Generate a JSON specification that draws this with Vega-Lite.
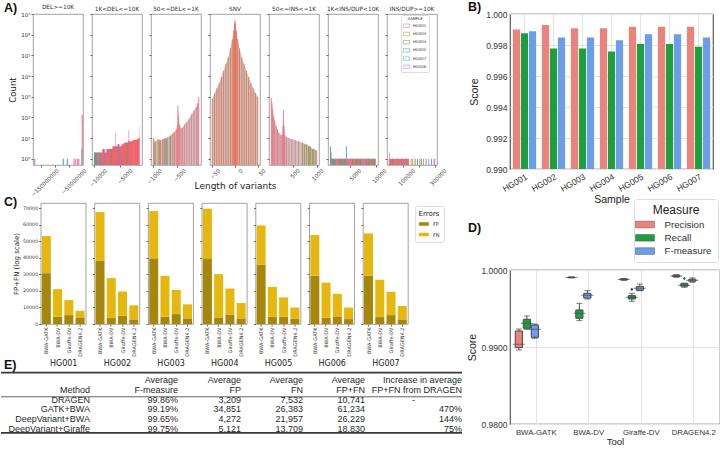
{
"$schema":"https://vega.github.io/schema/vega-lite/v6.json",
"padding":{"left":0,"top":0,"right":0,"bottom":0},
"background":"white",
"config":{
 "view":{"stroke":"#8a8a8a","strokeWidth":0.8},
 "axis":{"labelColor":"#333","titleColor":"#222","tickColor":"#666","domain":false,"grid":false,"titleFontWeight":"normal","labelFont":"DejaVu Sans","titleFont":"DejaVu Sans"},
 "legend":{"labelColor":"#333","titleColor":"#222","titleFontWeight":"normal"}
},
"datasets":{
 "a1":[{"x":-172000000,"c":1,"s":"HG006"},{"x":-69000000,"c":1,"s":"HG005"},{"x":-54000000,"c":1,"s":"HG007"},{"x":-30000000,"c":1,"s":"HG001"},{"x":-24000000,"c":1,"s":"HG006"},{"x":-17000000,"c":1,"s":"HG001"},{"x":-13000000,"c":1,"s":"HG001"},{"x":-1800000,"c":3,"s":"HG005"},{"x":-700000,"c":130,"s":"HG001"}],
 "a2a":[{"x":-10000,"c":2},{"x":-9600,"c":2},{"x":-9200,"c":2},{"x":-8800,"c":2},{"x":-8400,"c":3},{"x":-8000,"c":2},{"x":-7600,"c":3},{"x":-7200,"c":3},{"x":-6800,"c":3},{"x":-6400,"c":4},{"x":-6000,"c":4},{"x":-5900,"c":18},{"x":-5800,"c":4},{"x":-5400,"c":5},{"x":-5000,"c":4},{"x":-4600,"c":5},{"x":-4200,"c":6},{"x":-3800,"c":6},{"x":-3400,"c":7},{"x":-3200,"c":25},{"x":-3100,"c":7},{"x":-2800,"c":7},{"x":-2400,"c":8},{"x":-2000,"c":8},{"x":-1600,"c":9},{"x":-1300,"c":10},{"x":-1100,"c":12},{"x":-1050,"c":40},{"x":-1000,"c":40}],
 "a2r":[{"x":-9950,"c":2,"s":"HG005"},{"x":-9700,"c":2,"s":"HG004"},{"x":-9450,"c":2,"s":"HG007"},{"x":-9100,"c":2,"s":"HG003"},{"x":-8850,"c":2,"s":"HG005"},{"x":-7900,"c":3,"s":"HG007"},{"x":-6600,"c":3,"s":"HG004"},{"x":-5200,"c":5,"s":"HG005"},{"x":-3600,"c":6,"s":"HG004"},{"x":-2200,"c":8,"s":"HG003"}],
 "a3a":[{"x":-1000,"c":10},{"x":-950,"c":7},{"x":-900,"c":9},{"x":-850,"c":8},{"x":-800,"c":9},{"x":-750,"c":10},{"x":-700,"c":11},{"x":-650,"c":13},{"x":-600,"c":16},{"x":-560,"c":20},{"x":-520,"c":25},{"x":-500,"c":40},{"x":-485,"c":380},{"x":-470,"c":120},{"x":-450,"c":45},{"x":-420,"c":30},{"x":-390,"c":32},{"x":-350,"c":45},{"x":-300,"c":60},{"x":-250,"c":90},{"x":-200,"c":140},{"x":-150,"c":220},{"x":-100,"c":330},{"x":-70,"c":500},{"x":-50,"c":1000}],
 "a3r":[{"x":-980,"c":6,"s":"HG004"},{"x":-880,"c":8,"s":"HG003"},{"x":-860,"c":7,"s":"HG004"},{"x":-800,"c":8,"s":"HG003"},{"x":-760,"c":9,"s":"HG004"},{"x":-720,"c":9,"s":"HG005"},{"x":-640,"c":12,"s":"HG004"},{"x":-560,"c":18,"s":"HG003"}],
 "a4a":[{"x":-50,"c":800},{"x":-45,"c":1400},{"x":-40,"c":2600},{"x":-35,"c":4500},{"x":-30,"c":9000},{"x":-25,"c":18000},{"x":-20,"c":38000},{"x":-15,"c":80000},{"x":-10,"c":220000},{"x":-6,"c":600000},{"x":-3,"c":1500000},{"x":-1,"c":3500000},{"x":0,"c":5000000},{"x":1,"c":3500000},{"x":3,"c":1500000},{"x":6,"c":600000},{"x":10,"c":220000},{"x":15,"c":80000},{"x":20,"c":38000},{"x":25,"c":18000},{"x":30,"c":9000},{"x":35,"c":4500},{"x":40,"c":2600},{"x":45,"c":1500},{"x":50,"c":1000}],
 "a5a":[{"x":50,"c":900},{"x":65,"c":500},{"x":80,"c":250},{"x":100,"c":120},{"x":120,"c":70},{"x":150,"c":40},{"x":180,"c":25},{"x":210,"c":18},{"x":250,"c":14},{"x":280,"c":15},{"x":295,"c":40},{"x":305,"c":230},{"x":318,"c":40},{"x":335,"c":14},{"x":370,"c":11},{"x":420,"c":10},{"x":480,"c":9},{"x":550,"c":8},{"x":620,"c":7},{"x":700,"c":6},{"x":780,"c":5},{"x":850,"c":4},{"x":920,"c":3},{"x":1000,"c":2.5}],
 "a5r":[{"x":700,"c":6,"s":"HG003"},{"x":740,"c":5,"s":"HG004"},{"x":790,"c":5,"s":"HG003"},{"x":830,"c":4,"s":"HG004"},{"x":870,"c":4,"s":"HG003"},{"x":905,"c":3,"s":"HG005"},{"x":940,"c":3,"s":"HG004"},{"x":980,"c":2.5,"s":"HG003"}],
 "a6a":[{"x":1000,"c":3},{"x":1100,"c":2},{"x":1250,"c":1},{"x":10000,"c":1}],
 "a6r":[{"x":1050,"c":4,"s":"HG005"},{"x":1300,"c":1,"s":"HG003"},{"x":1450,"c":1,"s":"HG007"},{"x":1700,"c":1,"s":"HG004"},{"x":2000,"c":1,"s":"HG005"},{"x":2200,"c":1,"s":"HG006"},{"x":2600,"c":1,"s":"HG003"},{"x":2900,"c":1,"s":"HG004"},{"x":3200,"c":1,"s":"HG005"},{"x":3600,"c":1,"s":"HG007"},{"x":3900,"c":1,"s":"HG004"},{"x":4200,"c":4,"s":"HG007"},{"x":4600,"c":1,"s":"HG003"},{"x":5000,"c":1,"s":"HG006"},{"x":5400,"c":1,"s":"HG004"},{"x":5800,"c":1,"s":"HG003"},{"x":6200,"c":1,"s":"HG005"},{"x":6600,"c":1,"s":"HG007"},{"x":7000,"c":1,"s":"HG004"},{"x":7400,"c":1,"s":"HG003"},{"x":7800,"c":1,"s":"HG006"},{"x":8200,"c":1,"s":"HG005"},{"x":8600,"c":1,"s":"HG004"},{"x":9000,"c":1,"s":"HG003"},{"x":9400,"c":1,"s":"HG007"},{"x":9800,"c":1,"s":"HG004"}],
 "a7a":[{"x":10000,"c":2},{"x":14000,"c":1},{"x":136000,"c":0.5},{"x":300000,"c":0.5}],
 "a7l":[{"x":10000,"c":1},{"x":300000,"c":1}],
 "a7r":[{"x":30000,"c":1,"s":"HG005"},{"x":60000,"c":1,"s":"HG003"},{"x":90000,"c":1,"s":"HG007"},{"x":120000,"c":1,"s":"HG004"},{"x":150000,"c":1,"s":"HG003"},{"x":160000,"c":1,"s":"HG001"},{"x":175000,"c":1,"s":"HG004"},{"x":190000,"c":1,"s":"HG005"},{"x":205000,"c":1,"s":"HG003"},{"x":215000,"c":1,"s":"HG004"},{"x":228000,"c":1,"s":"HG001"},{"x":245000,"c":1,"s":"HG007"},{"x":262000,"c":1,"s":"HG006"},{"x":280000,"c":1,"s":"HG005"},{"x":296000,"c":1,"s":"HG006"}],
 "c":[
  {"sample":"HG001","tool":"BWA-GATK","FP":30800,"FN":22500},{"sample":"HG001","tool":"BWA-DV","FP":4400,"FN":16700},{"sample":"HG001","tool":"Giraffe-DV","FP":5400,"FN":9100},{"sample":"HG001","tool":"DRAGEN4.2","FP":4000,"FN":4000},
  {"sample":"HG002","tool":"BWA-GATK","FP":38200,"FN":29600},{"sample":"HG002","tool":"BWA-DV","FP":3600,"FN":24200},{"sample":"HG002","tool":"Giraffe-DV","FP":5000,"FN":14700},{"sample":"HG002","tool":"DRAGEN4.2","FP":2800,"FN":8500},
  {"sample":"HG003","tool":"BWA-GATK","FP":39800,"FN":28600},{"sample":"HG003","tool":"BWA-DV","FP":4400,"FN":24800},{"sample":"HG003","tool":"Giraffe-DV","FP":6000,"FN":14700},{"sample":"HG003","tool":"DRAGEN4.2","FP":3400,"FN":8500},
  {"sample":"HG004","tool":"BWA-GATK","FP":39800,"FN":30000},{"sample":"HG004","tool":"BWA-DV","FP":4000,"FN":26200},{"sample":"HG004","tool":"Giraffe-DV","FP":5800,"FN":15700},{"sample":"HG004","tool":"DRAGEN4.2","FP":3400,"FN":9300},
  {"sample":"HG005","tool":"BWA-GATK","FP":35800,"FN":23900},{"sample":"HG005","tool":"BWA-DV","FP":4400,"FN":18100},{"sample":"HG005","tool":"Giraffe-DV","FP":4400,"FN":11700},{"sample":"HG005","tool":"DRAGEN4.2","FP":3200,"FN":6800},
  {"sample":"HG006","tool":"BWA-GATK","FP":29200,"FN":24700},{"sample":"HG006","tool":"BWA-DV","FP":3800,"FN":21300},{"sample":"HG006","tool":"Giraffe-DV","FP":4600,"FN":13700},{"sample":"HG006","tool":"DRAGEN4.2","FP":3000,"FN":7000},
  {"sample":"HG007","tool":"BWA-GATK","FP":29200,"FN":25700},{"sample":"HG007","tool":"BWA-DV","FP":4200,"FN":22600},{"sample":"HG007","tool":"Giraffe-DV","FP":5400,"FN":14100},{"sample":"HG007","tool":"DRAGEN4.2","FP":2800,"FN":8100}
 ],
 "b":[
  {"sample":"HG001","Precision":0.99900,"Recall":0.99876,"F-measure":0.99888},
  {"sample":"HG002","Precision":0.99929,"Recall":0.99778,"F-measure":0.99849},
  {"sample":"HG003","Precision":0.99908,"Recall":0.99778,"F-measure":0.99849},
  {"sample":"HG004","Precision":0.99908,"Recall":0.99758,"F-measure":0.99830},
  {"sample":"HG005","Precision":0.99918,"Recall":0.99806,"F-measure":0.99869},
  {"sample":"HG006","Precision":0.99918,"Recall":0.99806,"F-measure":0.99869},
  {"sample":"HG007","Precision":0.99918,"Recall":0.99789,"F-measure":0.99849}
 ],
 "d":[
  {"tool":"BWA-GATK","m":"Precision","lo":0.98961,"q1":0.98992,"med":0.99035,"q3":0.99208,"hi":0.99234},
  {"tool":"BWA-GATK","m":"Recall","lo":0.99230,"q1":0.99243,"med":0.99308,"q3":0.99360,"hi":0.99403},
  {"tool":"BWA-GATK","m":"F-measure","lo":0.99113,"q1":0.99126,"med":0.99230,"q3":0.99286,"hi":0.99299},
  {"tool":"BWA-DV","m":"Precision","lo":0.99897,"q1":0.99901,"med":0.99904,"q3":0.99907,"hi":0.99910},
  {"tool":"BWA-DV","m":"Recall","lo":0.99343,"q1":0.99373,"med":0.99438,"q3":0.99481,"hi":0.99567},
  {"tool":"BWA-DV","m":"F-measure","lo":0.99623,"q1":0.99636,"med":0.99671,"q3":0.99697,"hi":0.99732},
  {"tool":"Giraffe-DV","m":"Precision","lo":0.99866,"q1":0.99871,"med":0.99878,"q3":0.99885,"hi":0.99889},
  {"tool":"Giraffe-DV","m":"Recall","lo":0.99593,"q1":0.99623,"med":0.99645,"q3":0.99667,"hi":0.99697},
  {"tool":"Giraffe-DV","m":"F-measure","lo":0.99732,"q1":0.99736,"med":0.99762,"q3":0.99784,"hi":0.99818},
  {"tool":"DRAGEN4.2","m":"Precision","lo":0.99905,"q1":0.99915,"med":0.99922,"q3":0.99932,"hi":0.99940},
  {"tool":"DRAGEN4.2","m":"Recall","lo":0.99775,"q1":0.99790,"med":0.99800,"q3":0.99822,"hi":0.99830},
  {"tool":"DRAGEN4.2","m":"F-measure","lo":0.99840,"q1":0.99855,"med":0.99866,"q3":0.99880,"hi":0.99898}
 ],
 "dout":[{"tool":"Giraffe-DV","m":"Recall","v":0.99749},{"tool":"DRAGEN4.2","m":"Recall","v":0.99890}],
 "tbl":[
  {"col":1,"row":1,"t":"Method"},{"col":1,"row":2,"t":"DRAGEN"},{"col":1,"row":3,"t":"GATK+BWA"},{"col":1,"row":4,"t":"DeepVariant+BWA"},{"col":1,"row":5,"t":"DeepVariant+Giraffe"},
  {"col":2,"row":0,"t":"Average"},{"col":2,"row":1,"t":"F-measure"},{"col":2,"row":2,"t":"99.86%"},{"col":2,"row":3,"t":"99.19%"},{"col":2,"row":4,"t":"99.65%"},{"col":2,"row":5,"t":"99.75%"},
  {"col":3,"row":0,"t":"Average"},{"col":3,"row":1,"t":"FP"},{"col":3,"row":2,"t":"3,209"},{"col":3,"row":3,"t":"34,851"},{"col":3,"row":4,"t":"4,272"},{"col":3,"row":5,"t":"5,121"},
  {"col":4,"row":0,"t":"Average"},{"col":4,"row":1,"t":"FN"},{"col":4,"row":2,"t":"7,532"},{"col":4,"row":3,"t":"26,383"},{"col":4,"row":4,"t":"21,957"},{"col":4,"row":5,"t":"13,709"},
  {"col":5,"row":0,"t":"Average"},{"col":5,"row":1,"t":"FP+FN"},{"col":5,"row":2,"t":"10,741"},{"col":5,"row":3,"t":"61,234"},{"col":5,"row":4,"t":"26,229"},{"col":5,"row":5,"t":"18,830"},
  {"col":6,"row":0,"t":"Increase in average"},{"col":6,"row":1,"t":"FP+FN from DRAGEN"},{"col":6,"row":2,"t":"-"},{"col":6,"row":3,"t":"470%"},{"col":6,"row":4,"t":"144%"},{"col":6,"row":5,"t":"75%"}
 ]
},
"hconcat":[
 {"vconcat":[
  {"hconcat":[
   {"width":23,"height":1,"data":{"values":[]},"mark":"point","view":{"stroke":null}},
   {"width":50,"height":151,"title":{"text":"DEL>=10K","fontSize":5.8,"font":"DejaVu Sans","fontWeight":"normal","color":"#333","offset":2},
    "data":{"name":"a1"},"mark":{"type":"rule","strokeWidth":1.2,"opacity":0.9},
    "encoding":{
     "x":{"field":"x","type":"quantitative","scale":{"domain":[-178000000,2000000],"nice":false,"zero":false},"axis":{"values":[-150000000,-100000000,-50000000],"labelOffset":15,"labelAngle":-45,"labelFontSize":5.5,"tickSize":2,"labelPadding":1,"format":"d","title":null}},
     "y":{"field":"c","type":"quantitative","scale":{"type":"log","domain":[0.5,10000000],"nice":false},"axis":{"title":"Count","titleFontSize":8.5,"titlePadding":3,"values":[1,10,100,1000,10000,100000,1000000,10000000],"labelExpr":"'10' + ['⁰','¹','²','³','⁴','⁵','⁶','⁷'][round(log(datum.value)/LN10)]","labelFontSize":5.5,"tickSize":2,"labelPadding":1}},
     "y2":{"datum":0.5},
     "color":{"field":"s","type":"nominal","scale":{"domain":["HG001","HG003","HG004","HG005","HG007","HG006"],"range":["#f77189","#bb9832","#50b131","#36ada4","#3ba3ec","#e866f4"]},"legend":null}}},
   {"width":50,"height":151,"title":{"text":"1K<DEL<=10K","fontSize":5.8,"font":"DejaVu Sans","fontWeight":"normal","color":"#333","offset":2},
    "encoding":{
     "x":{"field":"x","type":"quantitative","scale":{"domain":[-10450,-550],"nice":false,"zero":false},"axis":{"values":[-10000,-5000],"labelOffset":10,"labelAngle":-45,"labelFontSize":5.5,"tickSize":2,"labelPadding":1,"format":"d","title":null}},
     "y":{"field":"c","type":"quantitative","scale":{"type":"log","domain":[0.5,10000000],"nice":false},"axis":{"title":null,"labels":false,"values":[1,10,100,1000,10000,100000,1000000,10000000],"tickSize":2}},
     "y2":{"datum":0.5}},
    "layer":[
     {"data":{"name":"a2a"},"mark":{"type":"area","interpolate":"step-after","color":"#f3586f","opacity":0.95}},
     {"data":{"name":"a2r"},"mark":{"type":"rule","strokeWidth":1,"opacity":0.9},"encoding":{"color":{"field":"s","type":"nominal","scale":{"domain":["HG001","HG003","HG004","HG005","HG007","HG006"],"range":["#f77189","#bb9832","#50b131","#36ada4","#3ba3ec","#e866f4"]},"legend":null}}}
    ]},
   {"width":50,"height":151,"title":{"text":"50<=DEL<=1K","fontSize":5.8,"font":"DejaVu Sans","fontWeight":"normal","color":"#333","offset":2},
    "encoding":{
     "x":{"field":"x","type":"quantitative","scale":{"domain":[-1047.5,-2.5],"nice":false,"zero":false},"axis":{"values":[-1000,-500],"labelOffset":6,"labelAngle":-45,"labelFontSize":5.5,"tickSize":2,"labelPadding":1,"format":"d","title":null}},
     "y":{"field":"c","type":"quantitative","scale":{"type":"log","domain":[0.5,10000000],"nice":false},"axis":{"title":null,"labels":false,"values":[1,10,100,1000,10000,100000,1000000,10000000],"tickSize":2}},
     "y2":{"datum":0.5}},
    "layer":[
     {"data":{"name":"a3a"},"mark":{"type":"area","color":"#c6c5bf"}},
     {"data":{"name":"a3r"},"mark":{"type":"rule","strokeWidth":1,"opacity":0.9},"encoding":{"color":{"field":"s","type":"nominal","scale":{"domain":["HG001","HG003","HG004","HG005","HG007","HG006"],"range":["#f77189","#bb9832","#50b131","#36ada4","#3ba3ec","#e866f4"]},"legend":null}}},
     {"data":{"name":"a3a"},"mark":{"type":"line","color":"#ef6f86","strokeWidth":0.8}}
    ]},
   {"width":50,"height":151,"title":{"text":"SNV","fontSize":5.8,"font":"DejaVu Sans","fontWeight":"normal","color":"#333","offset":2},
    "encoding":{
     "x":{"field":"x","type":"quantitative","scale":{"domain":[-55,55],"nice":false,"zero":false},"axis":{"values":[-50,0,50],"labelOffset":5,"labelAngle":-45,"labelFontSize":5.5,"tickSize":2,"labelPadding":1,"format":"d","title":"Length of variants","titleFontSize":9,"titlePadding":1}},
     "y":{"field":"c","type":"quantitative","scale":{"type":"log","domain":[0.5,10000000],"nice":false},"axis":{"title":null,"labels":false,"values":[1,10,100,1000,10000,100000,1000000,10000000],"tickSize":2}},
     "y2":{"datum":0.5}},
    "layer":[
     {"data":{"name":"a4a"},"mark":{"type":"area","color":"#c6c5bf"}},
     {"data":{"name":"a4a"},"mark":{"type":"line","color":"#e4785e","strokeWidth":1}}
    ]},
   {"width":50,"height":151,"title":{"text":"50<=INS<=1K","fontSize":5.8,"font":"DejaVu Sans","fontWeight":"normal","color":"#333","offset":2},
    "encoding":{
     "x":{"field":"x","type":"quantitative","scale":{"domain":[2.5,1047.5],"nice":false,"zero":false},"axis":{"values":[500,1000],"labelOffset":4,"labelAngle":-45,"labelFontSize":5.5,"tickSize":2,"labelPadding":1,"format":"d","title":null}},
     "y":{"field":"c","type":"quantitative","scale":{"type":"log","domain":[0.5,10000000],"nice":false},"axis":{"title":null,"labels":false,"values":[1,10,100,1000,10000,100000,1000000,10000000],"tickSize":2}},
     "y2":{"datum":0.5}},
    "layer":[
     {"data":{"name":"a5a"},"mark":{"type":"area","color":"#c6c5bf"}},
     {"data":{"name":"a5r"},"mark":{"type":"rule","strokeWidth":1,"opacity":0.9},"encoding":{"color":{"field":"s","type":"nominal","scale":{"domain":["HG001","HG003","HG004","HG005","HG007","HG006"],"range":["#f77189","#bb9832","#50b131","#36ada4","#3ba3ec","#e866f4"]},"legend":null}}},
     {"data":{"name":"a5a"},"mark":{"type":"line","color":"#ef6f86","strokeWidth":0.8}}
    ]},
   {"width":50,"height":151,"title":{"text":"1K<INS/DUP<10K","fontSize":5.8,"font":"DejaVu Sans","fontWeight":"normal","color":"#333","offset":2},
    "encoding":{
     "x":{"field":"x","type":"quantitative","scale":{"domain":[550,10450],"nice":false,"zero":false},"axis":{"values":[5000,10000],"labelOffset":8,"labelAngle":-45,"labelFontSize":5.5,"tickSize":2,"labelPadding":1,"format":"d","title":null}},
     "y":{"field":"c","type":"quantitative","scale":{"type":"log","domain":[0.5,10000000],"nice":false},"axis":{"title":null,"labels":false,"values":[1,10,100,1000,10000,100000,1000000,10000000],"tickSize":2}},
     "y2":{"datum":0.5}},
    "layer":[
     {"data":{"name":"a6a"},"mark":{"type":"area","interpolate":"step-after","color":"#f3586f","opacity":0.9}},
     {"data":{"name":"a6r"},"mark":{"type":"rule","strokeWidth":1,"opacity":0.9},"encoding":{"color":{"field":"s","type":"nominal","scale":{"domain":["HG001","HG003","HG004","HG005","HG007","HG006"],"range":["#f77189","#bb9832","#50b131","#36ada4","#3ba3ec","#e866f4"]},"legend":null}}}
    ]},
   {"width":50,"height":151,"title":{"text":"INS/DUP>=10K","fontSize":5.8,"font":"DejaVu Sans","fontWeight":"normal","color":"#333","offset":2},
    "encoding":{
     "x":{"field":"x","type":"quantitative","scale":{"domain":[-4500,314500],"nice":false,"zero":false},"axis":{"values":[100000,200000,300000],"labelOffset":9,"labelAngle":-45,"labelFontSize":5.5,"tickSize":2,"labelPadding":1,"format":"d","title":null}},
     "y":{"field":"c","type":"quantitative","scale":{"type":"log","domain":[0.5,10000000],"nice":false},"axis":{"title":null,"labels":false,"values":[1,10,100,1000,10000,100000,1000000,10000000],"tickSize":2}},
     "y2":{"datum":0.5}},
    "layer":[
     {"data":{"name":"a7a"},"mark":{"type":"area","interpolate":"step-after","color":"#f3586f","opacity":0.9}},
     {"data":{"name":"a7l"},"mark":{"type":"line","color":"#f3586f","strokeWidth":0.8}},
     {"data":{"name":"a7r"},"mark":{"type":"rule","strokeWidth":1,"opacity":0.9},"encoding":{"color":{"field":"s","type":"nominal","scale":{"domain":["HG001","HG003","HG004","HG005","HG007","HG006"],"range":["#f77189","#bb9832","#50b131","#36ada4","#3ba3ec","#e866f4"]},
       "legend":{"orient":"none","legendX":14,"legendY":1,"title":"SAMPLE","titleFontSize":3.8,"labelFontSize":3.8,"titleFont":"DejaVu Sans","labelFont":"DejaVu Sans","symbolType":"M-1,-0.55H1V0.55H-1Z","symbolSize":40,"symbolStrokeWidth":0.6,"rowPadding":1.2,"padding":2,"strokeColor":"#dddddd","fillColor":"white","titleAnchor":"middle","titlePadding":1.5,"labelOffset":3,"cornerRadius":1}}}}
    ]}
  ],
  "spacing":9,"bounds":"flush",
  "title":{"text":"A)","anchor":"start","frame":"group","fontSize":12.5,"fontWeight":"bold","font":"Liberation Sans","dx":3,"dy":6.5,"offset":-4,"color":"#111"},
  "resolve":{"legend":{"color":"independent"}}},
  {"vconcat":[
   {"hconcat":[
    {"width":30.3,"height":1,"data":{"values":[]},"mark":"point","view":{"stroke":null}},
    {"width":45,"height":121,"data":{"name":"c"},"transform":[{"filter":"datum.sample=='HG001'"},{"fold":["FP","FN"],"as":["err","v"]}],"mark":{"type":"bar"},
     "encoding":{"x":{"field":"tool","type":"nominal","sort":["BWA-GATK","BWA-DV","Giraffe-DV","DRAGEN4.2"],"scale":{"paddingInner":0.2,"paddingOuter":0.1},"axis":{"title":"HG001","labelAngle":-90,"labelFontSize":5,"titleFontSize":8,"tickSize":2,"labelPadding":1,"titlePadding":3}},
      "y":{"field":"v","type":"quantitative","stack":"zero","scale":{"domain":[0,73300],"nice":false},"axis":{"title":"FP+FN (log scale)","values":[0,10000,20000,30000,40000,50000,60000,70000],"format":"d","labelFontSize":4.8,"titleFontSize":7,"tickSize":2,"labelPadding":1,"titlePadding":3}},
      "color":{"field":"err","type":"nominal","scale":{"domain":["FP","FN"],"range":["#a6870c","#e6b70e"]},"legend":null},
      "order":{"field":"err","sort":"descending"}}},
    {"width":45,"height":121,"data":{"name":"c"},"transform":[{"filter":"datum.sample=='HG002'"},{"fold":["FP","FN"],"as":["err","v"]}],"mark":{"type":"bar"},
     "encoding":{"x":{"field":"tool","type":"nominal","sort":["BWA-GATK","BWA-DV","Giraffe-DV","DRAGEN4.2"],"scale":{"paddingInner":0.2,"paddingOuter":0.1},"axis":{"title":"HG002","labelAngle":-90,"labelFontSize":5,"titleFontSize":8,"tickSize":2,"labelPadding":1,"titlePadding":3}},
      "y":{"field":"v","type":"quantitative","stack":"zero","scale":{"domain":[0,73300],"nice":false},"axis":{"title":null,"labels":false,"values":[0,10000,20000,30000,40000,50000,60000,70000],"tickSize":2}},
      "color":{"field":"err","type":"nominal","scale":{"domain":["FP","FN"],"range":["#a6870c","#e6b70e"]},"legend":null},
      "order":{"field":"err","sort":"descending"}}},
    {"width":45,"height":121,"data":{"name":"c"},"transform":[{"filter":"datum.sample=='HG003'"},{"fold":["FP","FN"],"as":["err","v"]}],"mark":{"type":"bar"},
     "encoding":{"x":{"field":"tool","type":"nominal","sort":["BWA-GATK","BWA-DV","Giraffe-DV","DRAGEN4.2"],"scale":{"paddingInner":0.2,"paddingOuter":0.1},"axis":{"title":"HG003","labelAngle":-90,"labelFontSize":5,"titleFontSize":8,"tickSize":2,"labelPadding":1,"titlePadding":3}},
      "y":{"field":"v","type":"quantitative","stack":"zero","scale":{"domain":[0,73300],"nice":false},"axis":{"title":null,"labels":false,"values":[0,10000,20000,30000,40000,50000,60000,70000],"tickSize":2}},
      "color":{"field":"err","type":"nominal","scale":{"domain":["FP","FN"],"range":["#a6870c","#e6b70e"]},"legend":null},
      "order":{"field":"err","sort":"descending"}}},
    {"width":45,"height":121,"data":{"name":"c"},"transform":[{"filter":"datum.sample=='HG004'"},{"fold":["FP","FN"],"as":["err","v"]}],"mark":{"type":"bar"},
     "encoding":{"x":{"field":"tool","type":"nominal","sort":["BWA-GATK","BWA-DV","Giraffe-DV","DRAGEN4.2"],"scale":{"paddingInner":0.2,"paddingOuter":0.1},"axis":{"title":"HG004","labelAngle":-90,"labelFontSize":5,"titleFontSize":8,"tickSize":2,"labelPadding":1,"titlePadding":3}},
      "y":{"field":"v","type":"quantitative","stack":"zero","scale":{"domain":[0,73300],"nice":false},"axis":{"title":null,"labels":false,"values":[0,10000,20000,30000,40000,50000,60000,70000],"tickSize":2}},
      "color":{"field":"err","type":"nominal","scale":{"domain":["FP","FN"],"range":["#a6870c","#e6b70e"]},"legend":null},
      "order":{"field":"err","sort":"descending"}}},
    {"width":45,"height":121,"data":{"name":"c"},"transform":[{"filter":"datum.sample=='HG005'"},{"fold":["FP","FN"],"as":["err","v"]}],"mark":{"type":"bar"},
     "encoding":{"x":{"field":"tool","type":"nominal","sort":["BWA-GATK","BWA-DV","Giraffe-DV","DRAGEN4.2"],"scale":{"paddingInner":0.2,"paddingOuter":0.1},"axis":{"title":"HG005","labelAngle":-90,"labelFontSize":5,"titleFontSize":8,"tickSize":2,"labelPadding":1,"titlePadding":3}},
      "y":{"field":"v","type":"quantitative","stack":"zero","scale":{"domain":[0,73300],"nice":false},"axis":{"title":null,"labels":false,"values":[0,10000,20000,30000,40000,50000,60000,70000],"tickSize":2}},
      "color":{"field":"err","type":"nominal","scale":{"domain":["FP","FN"],"range":["#a6870c","#e6b70e"]},"legend":null},
      "order":{"field":"err","sort":"descending"}}},
    {"width":45,"height":121,"data":{"name":"c"},"transform":[{"filter":"datum.sample=='HG006'"},{"fold":["FP","FN"],"as":["err","v"]}],"mark":{"type":"bar"},
     "encoding":{"x":{"field":"tool","type":"nominal","sort":["BWA-GATK","BWA-DV","Giraffe-DV","DRAGEN4.2"],"scale":{"paddingInner":0.2,"paddingOuter":0.1},"axis":{"title":"HG006","labelAngle":-90,"labelFontSize":5,"titleFontSize":8,"tickSize":2,"labelPadding":1,"titlePadding":3}},
      "y":{"field":"v","type":"quantitative","stack":"zero","scale":{"domain":[0,73300],"nice":false},"axis":{"title":null,"labels":false,"values":[0,10000,20000,30000,40000,50000,60000,70000],"tickSize":2}},
      "color":{"field":"err","type":"nominal","scale":{"domain":["FP","FN"],"range":["#a6870c","#e6b70e"]},"legend":null},
      "order":{"field":"err","sort":"descending"}}},
    {"width":45,"height":121,"data":{"name":"c"},"transform":[{"filter":"datum.sample=='HG007'"},{"fold":["FP","FN"],"as":["err","v"]}],"mark":{"type":"bar"},
     "encoding":{"x":{"field":"tool","type":"nominal","sort":["BWA-GATK","BWA-DV","Giraffe-DV","DRAGEN4.2"],"scale":{"paddingInner":0.2,"paddingOuter":0.1},"axis":{"title":"HG007","labelAngle":-90,"labelFontSize":5,"titleFontSize":8,"tickSize":2,"labelPadding":1,"titlePadding":3}},
      "y":{"field":"v","type":"quantitative","stack":"zero","scale":{"domain":[0,73300],"nice":false},"axis":{"title":null,"labels":false,"values":[0,10000,20000,30000,40000,50000,60000,70000],"tickSize":2}},
      "color":{"field":"err","type":"nominal","scale":{"domain":["FP","FN"],"range":["#a6870c","#e6b70e"]},
       "legend":{"orient":"none","legendX":52,"legendY":3,"title":"Errors","titleFontSize":7,"labelFontSize":5,"titleFont":"DejaVu Sans","labelFont":"DejaVu Sans","symbolType":"M-1,-0.35H1V0.35H-1Z","symbolSize":100,"symbolStrokeWidth":0,"rowPadding":2.5,"padding":4,"strokeColor":"#dddddd","fillColor":"white","titleAnchor":"middle","titlePadding":2,"labelOffset":4,"cornerRadius":2}},
      "order":{"field":"err","sort":"descending"}}}
   ],
   "spacing":8.7,"bounds":"flush",
   "title":{"text":"C)","anchor":"start","frame":"group","fontSize":12.5,"fontWeight":"bold","font":"Liberation Sans","dx":3,"dy":6,"offset":0,"color":"#111"},
   "resolve":{"legend":{"color":"independent"}}},
   {"hconcat":[
    {"width":89,"height":64,"view":{"stroke":null},
     "title":{"text":"E)","anchor":"start","frame":"group","fontSize":12.5,"fontWeight":"bold","font":"Liberation Sans","dx":3,"dy":0,"offset":0,"color":"#111"},
     "layer":[
      {"data":{"name":"tbl"},"transform":[{"filter":"datum.col==1"}],"mark":{"type":"text","align":"right","baseline":"middle","fontSize":9,"font":"Liberation Sans","color":"#1f1f1f"},"encoding":{"x":{"value":"width"},"y":{"field":"row","type":"quantitative","scale":{"domain":[-0.96,5.64],"reverse":true,"nice":false,"zero":false},"axis":null},"text":{"field":"t"}}},
      {"data":{"values":[{}]},"mark":{"type":"rule","color":"#3a3a3a","strokeWidth":1.8},"encoding":{"x":{"value":0},"x2":{"value":"width"},"y":{"datum":-0.8,"type":"quantitative","axis":null}}},
      {"data":{"values":[{}]},"mark":{"type":"rule","color":"#3a3a3a","strokeWidth":0.8},"encoding":{"x":{"value":0},"x2":{"value":"width"},"y":{"datum":1.7,"type":"quantitative","axis":null}}},
      {"data":{"values":[{}]},"mark":{"type":"rule","color":"#3a3a3a","strokeWidth":1.8},"encoding":{"x":{"value":0},"x2":{"value":"width"},"y":{"datum":5.43,"type":"quantitative","axis":null}}}
     ]},
    {"width":88,"height":64,"view":{"stroke":null},
     "layer":[
      {"data":{"name":"tbl"},"transform":[{"filter":"datum.col==2"}],"mark":{"type":"text","align":"right","baseline":"middle","fontSize":9,"font":"Liberation Sans","color":"#1f1f1f"},"encoding":{"x":{"value":"width"},"y":{"field":"row","type":"quantitative","scale":{"domain":[-0.96,5.64],"reverse":true,"nice":false,"zero":false},"axis":null},"text":{"field":"t"}}},
      {"data":{"values":[{}]},"mark":{"type":"rule","color":"#3a3a3a","strokeWidth":1.8},"encoding":{"x":{"value":0},"x2":{"value":"width"},"y":{"datum":-0.8,"type":"quantitative","axis":null}}},
      {"data":{"values":[{}]},"mark":{"type":"rule","color":"#3a3a3a","strokeWidth":0.8},"encoding":{"x":{"value":0},"x2":{"value":"width"},"y":{"datum":1.7,"type":"quantitative","axis":null}}},
      {"data":{"values":[{}]},"mark":{"type":"rule","color":"#3a3a3a","strokeWidth":1.8},"encoding":{"x":{"value":0},"x2":{"value":"width"},"y":{"datum":5.43,"type":"quantitative","axis":null}}}
     ]},
    {"width":63,"height":64,"view":{"stroke":null},
     "layer":[
      {"data":{"name":"tbl"},"transform":[{"filter":"datum.col==3"}],"mark":{"type":"text","align":"right","baseline":"middle","fontSize":9,"font":"Liberation Sans","color":"#1f1f1f"},"encoding":{"x":{"value":"width"},"y":{"field":"row","type":"quantitative","scale":{"domain":[-0.96,5.64],"reverse":true,"nice":false,"zero":false},"axis":null},"text":{"field":"t"}}},
      {"data":{"values":[{}]},"mark":{"type":"rule","color":"#3a3a3a","strokeWidth":1.8},"encoding":{"x":{"value":0},"x2":{"value":"width"},"y":{"datum":-0.8,"type":"quantitative","axis":null}}},
      {"data":{"values":[{}]},"mark":{"type":"rule","color":"#3a3a3a","strokeWidth":0.8},"encoding":{"x":{"value":0},"x2":{"value":"width"},"y":{"datum":1.7,"type":"quantitative","axis":null}}},
      {"data":{"values":[{}]},"mark":{"type":"rule","color":"#3a3a3a","strokeWidth":1.8},"encoding":{"x":{"value":0},"x2":{"value":"width"},"y":{"datum":5.43,"type":"quantitative","axis":null}}}
     ]},
    {"width":62,"height":64,"view":{"stroke":null},
     "layer":[
      {"data":{"name":"tbl"},"transform":[{"filter":"datum.col==4"}],"mark":{"type":"text","align":"right","baseline":"middle","fontSize":9,"font":"Liberation Sans","color":"#1f1f1f"},"encoding":{"x":{"value":"width"},"y":{"field":"row","type":"quantitative","scale":{"domain":[-0.96,5.64],"reverse":true,"nice":false,"zero":false},"axis":null},"text":{"field":"t"}}},
      {"data":{"values":[{}]},"mark":{"type":"rule","color":"#3a3a3a","strokeWidth":1.8},"encoding":{"x":{"value":0},"x2":{"value":"width"},"y":{"datum":-0.8,"type":"quantitative","axis":null}}},
      {"data":{"values":[{}]},"mark":{"type":"rule","color":"#3a3a3a","strokeWidth":0.8},"encoding":{"x":{"value":0},"x2":{"value":"width"},"y":{"datum":1.7,"type":"quantitative","axis":null}}},
      {"data":{"values":[{}]},"mark":{"type":"rule","color":"#3a3a3a","strokeWidth":1.8},"encoding":{"x":{"value":0},"x2":{"value":"width"},"y":{"datum":5.43,"type":"quantitative","axis":null}}}
     ]},
    {"width":62,"height":64,"view":{"stroke":null},
     "layer":[
      {"data":{"name":"tbl"},"transform":[{"filter":"datum.col==5"}],"mark":{"type":"text","align":"right","baseline":"middle","fontSize":9,"font":"Liberation Sans","color":"#1f1f1f"},"encoding":{"x":{"value":"width"},"y":{"field":"row","type":"quantitative","scale":{"domain":[-0.96,5.64],"reverse":true,"nice":false,"zero":false},"axis":null},"text":{"field":"t"}}},
      {"data":{"values":[{}]},"mark":{"type":"rule","color":"#3a3a3a","strokeWidth":1.8},"encoding":{"x":{"value":0},"x2":{"value":"width"},"y":{"datum":-0.8,"type":"quantitative","axis":null}}},
      {"data":{"values":[{}]},"mark":{"type":"rule","color":"#3a3a3a","strokeWidth":0.8},"encoding":{"x":{"value":0},"x2":{"value":"width"},"y":{"datum":1.7,"type":"quantitative","axis":null}}},
      {"data":{"values":[{}]},"mark":{"type":"rule","color":"#3a3a3a","strokeWidth":1.8},"encoding":{"x":{"value":0},"x2":{"value":"width"},"y":{"datum":5.43,"type":"quantitative","axis":null}}}
     ]},
    {"width":97,"height":64,"view":{"stroke":null},
     "layer":[
      {"data":{"name":"tbl"},"transform":[{"filter":"datum.col==6 && datum.t!='-'"}],"mark":{"type":"text","align":"right","baseline":"middle","fontSize":9,"font":"Liberation Sans","color":"#1f1f1f"},"encoding":{"x":{"value":"width"},"y":{"field":"row","type":"quantitative","scale":{"domain":[-0.96,5.64],"reverse":true,"nice":false,"zero":false},"axis":null},"text":{"field":"t"}}},
      {"data":{"name":"tbl"},"transform":[{"filter":"datum.col==6 && datum.t=='-'"}],"mark":{"type":"text","align":"center","baseline":"middle","fontSize":9,"font":"Liberation Sans","color":"#1f1f1f"},"encoding":{"x":{"field":"t","type":"nominal","scale":{"type":"point"},"axis":null},"y":{"field":"row","type":"quantitative","axis":null},"text":{"field":"t"}}},
      {"data":{"values":[{}]},"mark":{"type":"rule","color":"#3a3a3a","strokeWidth":1.8},"encoding":{"x":{"value":0},"x2":{"value":"width"},"y":{"datum":-0.8,"type":"quantitative","axis":null}}},
      {"data":{"values":[{}]},"mark":{"type":"rule","color":"#3a3a3a","strokeWidth":0.8},"encoding":{"x":{"value":0},"x2":{"value":"width"},"y":{"datum":1.7,"type":"quantitative","axis":null}}},
      {"data":{"values":[{}]},"mark":{"type":"rule","color":"#3a3a3a","strokeWidth":1.8},"encoding":{"x":{"value":0},"x2":{"value":"width"},"y":{"datum":5.43,"type":"quantitative","axis":null}}}
     ]}
   ],
   "spacing":0,"bounds":"flush"}
  ],
  "spacing":-10,
  "resolve":{"scale":{"color":"independent"},"legend":{"color":"independent"}}}
 ],
 "spacing":-2,
 "resolve":{"scale":{"color":"independent"},"legend":{"color":"independent"}}},
 {"vconcat":[
  {"width":203,"height":155,
   "title":{"text":"B)","anchor":"start","frame":"group","fontSize":12.5,"fontWeight":"bold","font":"Liberation Sans","dx":-42,"dy":1.5,"offset":-2,"color":"#111"},
   "data":{"name":"b"},
   "transform":[{"fold":["Precision","Recall","F-measure"],"as":["m","v"]}],
   "mark":{"type":"bar"},
   "encoding":{
    "x":{"field":"sample","type":"nominal","scale":{"paddingInner":0.2,"paddingOuter":0.1},"axis":{"title":"Sample","labelAngle":-30,"labelFontSize":8.5,"labelFont":"Liberation Sans","titleFont":"Liberation Sans","titleFontSize":10.5,"grid":true,"gridColor":"#e3e3e3","tickSize":0,"labelPadding":3,"titlePadding":2}},
    "xOffset":{"field":"m","type":"nominal","sort":["Precision","Recall","F-measure"]},
    "y":{"field":"v","type":"quantitative","scale":{"domain":[0.99,1.0],"nice":false,"zero":false},"axis":{"title":"Score","values":[0.99,0.992,0.994,0.996,0.998,1.0],"format":".3f","labelFontSize":8.5,"labelFont":"Liberation Sans","titleFont":"Liberation Sans","titleFontSize":10.5,"grid":true,"gridColor":"#e3e3e3","tickSize":0,"labelPadding":3,"titlePadding":6}},
    "y2":{"datum":0.99},
    "color":{"field":"m","type":"nominal","scale":{"domain":["Precision","Recall","F-measure"],"range":["#eb837c","#1f9e3e","#6b9de8"]},
     "legend":{"orient":"none","legendX":124,"legendY":185,"title":"Measure","titleFontSize":12,"titleFont":"Liberation Sans","labelFont":"Liberation Sans","labelFontSize":9.7,"symbolType":"M-2,-0.7H2V0.7H-2Z","symbolSize":90,"symbolStrokeColor":"#555","symbolStrokeWidth":0.5,"rowPadding":3.3,"padding":6,"strokeColor":"#dddddd","fillColor":"white","cornerRadius":3,"titleAnchor":"middle","titlePadding":2.5,"labelOffset":14.5}}
   },
   "view":{"stroke":"#5a5a5a","strokeWidth":1.2}},
  {"width":210,"height":154,
   "title":{"text":"D)","anchor":"start","frame":"group","fontSize":12.5,"fontWeight":"bold","font":"Liberation Sans","dx":-42,"dy":-32,"offset":0,"color":"#111"},
   "encoding":{
    "x":{"field":"tool","type":"nominal","sort":["BWA-GATK","BWA-DV","Giraffe-DV","DRAGEN4.2"],"scale":{"paddingInner":0.2,"paddingOuter":0.1},"axis":{"title":"Tool","labelAngle":0,"labelFontSize":7.8,"labelFont":"Liberation Sans","titleFont":"Liberation Sans","titleFontSize":9.5,"grid":true,"gridColor":"#e3e3e3","tickSize":0,"labelPadding":4,"titlePadding":1}},
    "xOffset":{"field":"m","type":"nominal","sort":["Precision","Recall","F-measure"],"scale":{"paddingInner":0.1,"paddingOuter":0}}
   },
   "layer":[
    {"data":{"name":"d"},"mark":{"type":"rule","color":"#4a4a4a","strokeWidth":1},
     "encoding":{"y":{"field":"lo","type":"quantitative","title":"Score","scale":{"domain":[0.98,1.0],"nice":false,"zero":false},"axis":{"values":[0.98,0.9825,0.985,0.9875,0.99,0.9925,0.995,0.9975,1.0],"format":".4f","labelFontSize":8.5,"labelFont":"Liberation Sans","titleFont":"Liberation Sans","titleFontSize":10.5,"grid":true,"gridColor":"#e3e3e3","tickSize":0,"labelPadding":3,"titlePadding":4}},"y2":{"field":"hi"}}},
    {"data":{"name":"d"},"mark":{"type":"bar","stroke":"#4a4a4a","strokeWidth":1},
     "encoding":{"y":{"field":"q1","type":"quantitative","title":"Score"},"y2":{"field":"q3"},"color":{"field":"m","type":"nominal","scale":{"domain":["Precision","Recall","F-measure"],"range":["#eb837c","#1f9e3e","#6b9de8"]},"legend":null}}},
    {"data":{"name":"d"},"mark":{"type":"tick","orient":"horizontal","color":"#4a4a4a","thickness":1,"size":12},"encoding":{"y":{"field":"med","type":"quantitative","title":"Score"}}},
    {"data":{"name":"d"},"mark":{"type":"tick","orient":"horizontal","color":"#4a4a4a","thickness":1,"size":6},"encoding":{"y":{"field":"lo","type":"quantitative","title":"Score"}}},
    {"data":{"name":"d"},"mark":{"type":"tick","orient":"horizontal","color":"#4a4a4a","thickness":1,"size":6},"encoding":{"y":{"field":"hi","type":"quantitative","title":"Score"}}},
    {"data":{"name":"dout"},"mark":{"type":"point","shape":"diamond","filled":true,"color":"#444","size":10,"opacity":1},"encoding":{"y":{"field":"v","type":"quantitative","title":"Score"}}}
   ],
   "view":{"stroke":"#5a5a5a","strokeWidth":1.2}}
 ],
 "spacing":101,"bounds":"flush",
 "resolve":{"legend":{"color":"independent"}}}
],
"spacing":3,
"resolve":{"scale":{"color":"independent"},"legend":{"color":"independent"}}
}
